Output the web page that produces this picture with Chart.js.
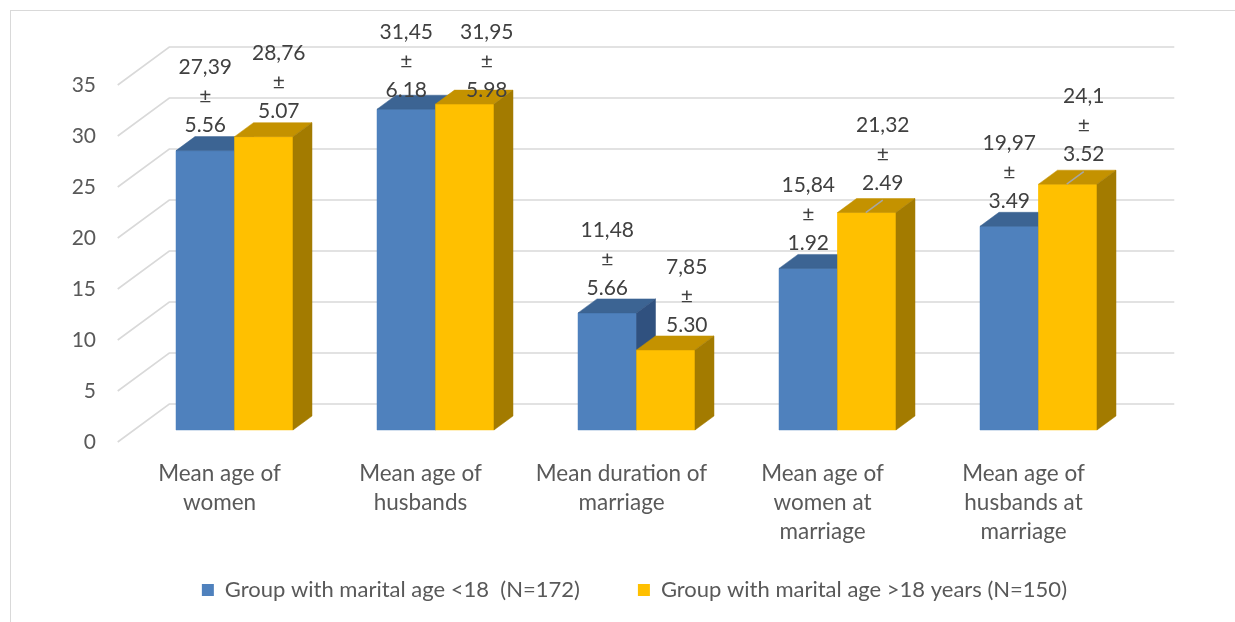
<!DOCTYPE html>
<html>
<head>
<meta charset="utf-8">
<script src="https://cdn.jsdelivr.net/npm/chart.js@4/dist/chart.umd.min.js"></script>
<style>
  html, body { margin: 0; padding: 0; background: #fff; }
  #wrap { position: relative; width: 1235px; height: 622px; }
</style>
</head>
<body>
<div id="wrap"><canvas id="c" width="1235" height="622"></canvas></div>
<script>
// Categories (multi-line axis labels)
const categories = [
  ['Mean age of', 'women'],
  ['Mean age of', 'husbands'],
  ['Mean duration of', 'marriage'],
  ['Mean age of', 'women at', 'marriage'],
  ['Mean age of', 'husbands at', 'marriage']
];
const seriesNames = [
  'Group with marital age <18  (N=172)',
  'Group with marital age >18 years (N=150)'
];
// Means and standard deviations per group
const meanUnder18 = [27.39, 31.45, 11.48, 15.84, 19.97];
const sdUnder18   = [5.56, 6.18, 5.66, 1.92, 3.49];
const meanOver18  = [28.76, 31.95, 7.85, 21.32, 24.1];
const sdOver18    = [5.07, 5.98, 5.30, 2.49, 3.52];
const yTicks = [0, 5, 10, 15, 20, 25, 30, 35];

const FONT = 'Lato';
const faceColors = {
  front: ['#4F81BD', '#FFC000'],
  top:   ['#3C6493', '#C49200'],
  side:  ['#30517F', '#A37B00']
};
// oblique projection of the depth axis
const depth = { dx: 19, dy: 14, wallBack: 26, wallFront: 12 };
// data-label placement
const labelLayout = {
  gap: 29, lift: 25, minTop: 32,
  shiftX: [[0, 0, 0, 0, 0], [15, 22, 21, 16, 16]],
  extraLift: [[0, 0, 0, 0, 0], [0, 0, 0, 4.5, 4.5]]
};

function poly(ctx, pts, color) {
  ctx.beginPath();
  ctx.moveTo(pts[0][0], pts[0][1]);
  for (let i = 1; i < pts.length; i++) ctx.lineTo(pts[i][0], pts[i][1]);
  ctx.closePath();
  ctx.fillStyle = color;
  ctx.strokeStyle = color;
  ctx.lineWidth = 0.5;
  ctx.fill();
  ctx.stroke();
}

const threeD = {
  id: 'threeD',
  afterLayout(chart) {
    // let the multi-line category labels run past the axis box without clipping
    const x = chart.scales.x;
    x.bottom = x.top + 130;
    // nudge the legend row slightly left
    const lg = chart.legend;
    lg.left -= 14;
    lg.right -= 14;
  },
  beforeDraw(chart) {
    const ctx = chart.ctx;
    ctx.save();
    ctx.strokeStyle = '#d9d9d9';
    ctx.lineWidth = 1;
    ctx.strokeRect(10.5, 10.5, chart.width, chart.height);
    ctx.restore();
  },
  beforeDatasetsDraw(chart) {
    const { ctx, chartArea: a, scales: { y } } = chart;
    const k = depth.dx / depth.dy;
    ctx.save();
    ctx.strokeStyle = '#d9d9d9';
    ctx.lineWidth = 1.6;
    y.ticks.forEach(t => {
      const py = y.getPixelForValue(t.value);
      ctx.beginPath();
      ctx.moveTo(a.left - depth.wallFront * k, py + depth.wallFront);
      ctx.lineTo(a.left + depth.wallBack * k, py - depth.wallBack);
      ctx.lineTo(a.right + depth.wallBack * k, py - depth.wallBack);
      ctx.stroke();
    });
    ctx.restore();
  },
  afterDatasetsDraw(chart) {
    const ctx = chart.ctx;
    const n = chart.data.labels.length;
    const sets = chart.data.datasets;
    ctx.save();
    // bar solids: front, top and side faces, drawn group by group
    for (let i = 0; i < n; i++) {
      for (let d = 0; d < sets.length; d++) {
        const bar = chart.getDatasetMeta(d).data[i];
        const { x, y: top, base, width } = bar.getProps(['x', 'y', 'base', 'width'], true);
        const l = x - width / 2, r = x + width / 2;
        poly(ctx, [[l, top], [r, top], [r, base], [l, base]], faceColors.front[d]);
        poly(ctx, [[l, top], [r, top], [r + depth.dx, top - depth.dy], [l + depth.dx, top - depth.dy]], faceColors.top[d]);
        poly(ctx, [[r, top], [r + depth.dx, top - depth.dy], [r + depth.dx, base - depth.dy], [r, base]], faceColors.side[d]);
      }
    }
    // value labels: mean, ±, SD
    ctx.font = '21px ' + FONT;
    ctx.textAlign = 'center';
    ctx.textBaseline = 'middle';
    for (let d = 0; d < sets.length; d++) {
      for (let i = 0; i < n; i++) {
        const bar = chart.getDatasetMeta(d).data[i];
        const { x, y: top } = bar.getProps(['x', 'y'], true);
        const mean = sets[d].data[i];
        const sd = sets[d].sd[i];
        const lines = [String(mean).replace('.', ','), '\u00B1', sd.toFixed(2)];
        const lx = x + labelLayout.shiftX[d][i];
        let lastY = top - labelLayout.lift - labelLayout.extraLift[d][i];
        let firstY = lastY - 2 * labelLayout.gap;
        if (firstY < labelLayout.minTop) {
          firstY = labelLayout.minTop;
          lastY = firstY + 2 * labelLayout.gap;
        }
        if (labelLayout.extraLift[d][i] > 0) {
          ctx.strokeStyle = '#a6a6a6';
          ctx.lineWidth = 1.5;
          ctx.beginPath();
          ctx.moveTo(x - 1, top);
          ctx.lineTo(lx, lastY + 17);
          ctx.stroke();
        }
        ctx.fillStyle = '#404040';
        lines.forEach((t, j) => ctx.fillText(t, lx, firstY + j * labelLayout.gap));
      }
    }
    ctx.restore();
  }
};

new Chart(document.getElementById('c'), {
  type: 'bar',
  data: {
    labels: categories,
    datasets: [
      { label: seriesNames[0], data: meanUnder18, sd: sdUnder18,
        backgroundColor: faceColors.front[0], borderWidth: 0 },
      { label: seriesNames[1], data: meanOver18, sd: sdOver18,
        backgroundColor: faceColors.front[1], borderWidth: 0 }
    ]
  },
  options: {
    responsive: false,
    animation: false,
    devicePixelRatio: 1,
    layout: { padding: { top: 73, right: 96, left: 0, bottom: 11 } },
    datasets: { bar: { categoryPercentage: 0.582, barPercentage: 1.0 } },
    plugins: {
      legend: {
        position: 'bottom',
        align: 'end',
        fullSize: false,
        labels: {
          boxWidth: 12, boxHeight: 12, padding: 58,
          color: '#595959',
          font: { family: FONT, size: 22 }
        }
      },
      tooltip: { enabled: false }
    },
    scales: {
      x: {
        grid: { display: false, drawTicks: false },
        border: { display: false },
        ticks: {
          color: '#595959', font: { family: FONT, size: 22.5, lineHeight: '29px' },
          padding: 29.5, labelOffset: -15, autoSkip: false, maxRotation: 0
        },
        afterFit(s) { s.height = 91; }
      },
      y: {
        min: 0, max: 35,
        grid: { display: false, drawTicks: false },
        border: { display: false },
        afterBuildTicks(s) { s.ticks = yTicks.map(v => ({ value: v })); },
        ticks: {
          color: '#595959', font: { family: FONT, size: 21 },
          padding: 38, labelOffset: 12
        },
        afterFit(s) { s.width = 134; }
      }
    }
  },
  plugins: [threeD]
});
</script>
</body>
</html>
